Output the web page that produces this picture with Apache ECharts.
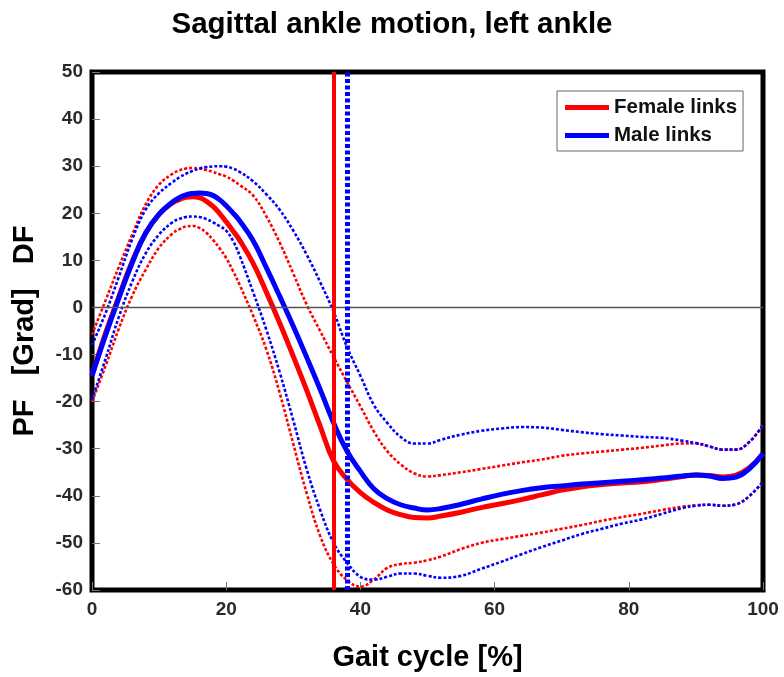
<!DOCTYPE html>
<html>
<head>
<meta charset="utf-8">
<script src="https://cdn.jsdelivr.net/npm/echarts@6/dist/echarts.min.js"></script>
<style>
  html, body { margin: 0; padding: 0; background: #fff; }
  #chart { width: 784px; height: 677px; }
</style>
</head>
<body>
<div id="chart"></div>
<script>
// Gait cycle positions (%) shared by every curve (denser around the stance peak)
const gaitPct = [0,2,4,6,8,10,12,13,14,15,16,17,18,19,20,21,22,24,26,28,30,32,34,36,38,40,42,44,46,48,50,52,55,58,61,64,67,70,73,76,79,82,85,88,90,92,94,96,98,100];

// Ankle angle (degrees): means and +/- band for each group
const femaleMean  = [-14.5,-5.5,2.3,9.8,15.8,19.8,22.2,22.9,23.4,23.5,23.3,22.6,21.5,20.0,18.2,16.3,14.3,9.4,3.2,-3.4,-10.4,-17.6,-25.2,-32.6,-36.5,-39.3,-41.4,-43.0,-44.0,-44.6,-44.7,-44.3,-43.5,-42.5,-41.7,-40.8,-39.8,-38.8,-38.1,-37.6,-37.3,-37.0,-36.5,-35.9,-35.6,-35.7,-36.0,-35.6,-34.0,-31.0];
const maleMean    = [-14.5,-6,2,9.5,15.8,19.8,22.4,23.3,23.9,24.2,24.3,24.2,23.8,22.9,21.6,20.1,18.4,14.2,8.4,2.3,-4,-10.6,-17.4,-24.5,-30.5,-34.8,-38.5,-40.6,-41.9,-42.6,-43.0,-42.7,-41.8,-40.7,-39.7,-38.9,-38.3,-37.9,-37.5,-37.2,-36.9,-36.6,-36.2,-35.8,-35.6,-35.8,-36.3,-36.0,-34.2,-31.0];
const femaleUpper = [-5.8,1.4,8.6,15.5,21.9,26.1,28.4,29.1,29.5,29.6,29.5,29.2,28.8,28.3,27.8,27.0,26.0,23.8,19.3,13.7,7.2,0.6,-5,-10.5,-15.8,-21,-26.3,-30.5,-33.3,-35.2,-35.9,-35.6,-35,-34.3,-33.6,-32.9,-32.3,-31.5,-31,-30.6,-30.2,-29.8,-29.3,-28.9,-28.9,-29.5,-30.2,-30.2,-28.5,-25];
const maleUpper   = [-8,-1.3,6.5,14.5,20.8,24.3,26.6,27.6,28.4,29.0,29.5,29.8,29.95,30.0,29.9,29.5,28.8,26.8,24,20.7,16.3,11.2,5.4,-0.9,-8.4,-14.5,-20.7,-24.5,-27.5,-28.9,-28.9,-28.1,-27,-26.2,-25.7,-25.4,-25.5,-26,-26.5,-26.9,-27.2,-27.5,-27.7,-28.3,-28.8,-29.5,-30.2,-30.2,-28.5,-25];
const femaleLower = [-20,-12.5,-4.5,2.5,8,12.7,15.7,16.6,17.2,17.3,16.9,15.9,14.4,12.6,10.5,7.8,4.8,-1.7,-9,-18.3,-29,-39.5,-48.5,-54.5,-57.9,-59.3,-57.8,-55.3,-54.5,-54.2,-53.7,-52.9,-51.3,-50,-49.2,-48.5,-47.8,-47,-46.2,-45.3,-44.5,-43.8,-43,-42.3,-42,-41.9,-42.1,-41.8,-40,-37];
const maleLower   = [-19.6,-11,-2,5.5,11.5,15.5,18.1,18.8,19.2,19.3,19.2,18.8,18.1,17.3,16.3,14.2,11.0,3.3,-4.8,-13.9,-24,-34.4,-43,-50,-54.2,-57.2,-57.8,-57.2,-56.5,-56.5,-57,-57.4,-57,-55.5,-54,-52.4,-50.9,-49.5,-48.1,-47,-45.9,-45,-43.8,-42.6,-42.1,-41.9,-42.1,-41.8,-40,-37];

// Toe-off events (% of gait cycle)
const femaleToeOff = 36;
const maleToeOff = 38;

const xTicks = { min: 0, max: 100, step: 20 };
const yTicks = { min: -60, max: 50, step: 10 };

const RED = '#ff0000';
const BLUE = '#0000ff';
const FONT = 'Liberation Sans, Arial, sans-serif';

const pairs = (ys) => gaitPct.map((x, i) => [x, ys[i]]);

function band(name, ys, color) {
  return {
    name, type: 'line', data: pairs(ys), smooth: 0.4, symbol: 'none', silent: true,
    lineStyle: { color, width: 2.6, type: [3, 2] }, z: 2
  };
}

const chart = echarts.init(document.getElementById('chart'), null, { renderer: 'canvas' });
chart.setOption({
  animation: false,
  backgroundColor: '#fff',
  title: {
    text: 'Sagittal ankle motion, left ankle',
    left: 'center', top: 5,
    textStyle: { fontFamily: FONT, fontSize: 29.5, fontWeight: 'bold', color: '#000' }
  },
  grid: {
    left: 92, right: 21, top: 72, bottom: 87,
    show: true, borderColor: '#000', borderWidth: 5
  },
  legend: {
    orient: 'vertical', left: 557, top: 91,
    data: [{ name: 'Female links', icon: 'rect' }, { name: 'Male links', icon: 'rect' }],
    itemWidth: 44, itemHeight: 5, itemGap: 7,
    padding: [6, 6, 5, 8],
    borderColor: '#666', borderWidth: 1, backgroundColor: '#fff',
    textStyle: { fontFamily: FONT, fontSize: 20.5, lineHeight: 20, fontWeight: 'bold', color: '#111' }
  },
  xAxis: {
    type: 'value', min: xTicks.min, max: xTicks.max, interval: xTicks.step,
    name: 'Gait cycle [%]', nameLocation: 'middle', nameGap: 53,
    nameTextStyle: { fontFamily: FONT, fontSize: 29, fontWeight: 'bold', color: '#000' },
    axisLine: { show: false, onZero: false },
    axisTick: { show: true, inside: true, length: 8, lineStyle: { color: '#777', width: 1 } },
    axisLabel: { fontFamily: FONT, fontSize: 19, fontWeight: 'bold', color: '#2a2a2a', margin: 10 },
    splitLine: { show: false }
  },
  yAxis: {
    type: 'value', min: yTicks.min, max: yTicks.max, interval: yTicks.step,
    name: 'PF   [Grad]   DF', nameLocation: 'middle', nameGap: 53,
    nameTextStyle: { fontFamily: FONT, fontSize: 29, fontWeight: 'bold', color: '#000' },
    axisLine: { show: false, onZero: false },
    axisTick: { show: true, inside: true, length: 8, lineStyle: { color: '#777', width: 1 } },
    axisLabel: { fontFamily: FONT, fontSize: 19, fontWeight: 'bold', color: '#2a2a2a', margin: 9 },
    splitLine: { show: false }
  },
  series: [
    {
      name: 'zero', type: 'line', data: [], silent: true,
      markLine: {
        silent: true, symbol: 'none', label: { show: false },
        lineStyle: { color: '#555', width: 1.3, type: 'solid' },
        data: [{ yAxis: 0 }]
      }
    },
    band('female upper', femaleUpper, RED),
    band('female lower', femaleLower, RED),
    band('male upper', maleUpper, BLUE),
    band('male lower', maleLower, BLUE),
    {
      name: 'Female links', type: 'line', data: pairs(femaleMean), smooth: 0.45, symbol: 'none',
      lineStyle: { color: RED, width: 5 }, itemStyle: { color: RED }, z: 3,
      markLine: {
        silent: true, symbol: 'none', label: { show: false },
        lineStyle: { color: RED, width: 4, type: 'solid' },
        data: [{ xAxis: femaleToeOff }]
      }
    },
    {
      name: 'Male links', type: 'line', data: pairs(maleMean), smooth: 0.45, symbol: 'none',
      lineStyle: { color: BLUE, width: 5 }, itemStyle: { color: BLUE }, z: 4,
      markLine: {
        silent: true, symbol: 'none', label: { show: false },
        lineStyle: { color: BLUE, width: 5, type: [4, 2.5] },
        data: [{ xAxis: maleToeOff }]
      }
    }
  ]
});
</script>
</body>
</html>
